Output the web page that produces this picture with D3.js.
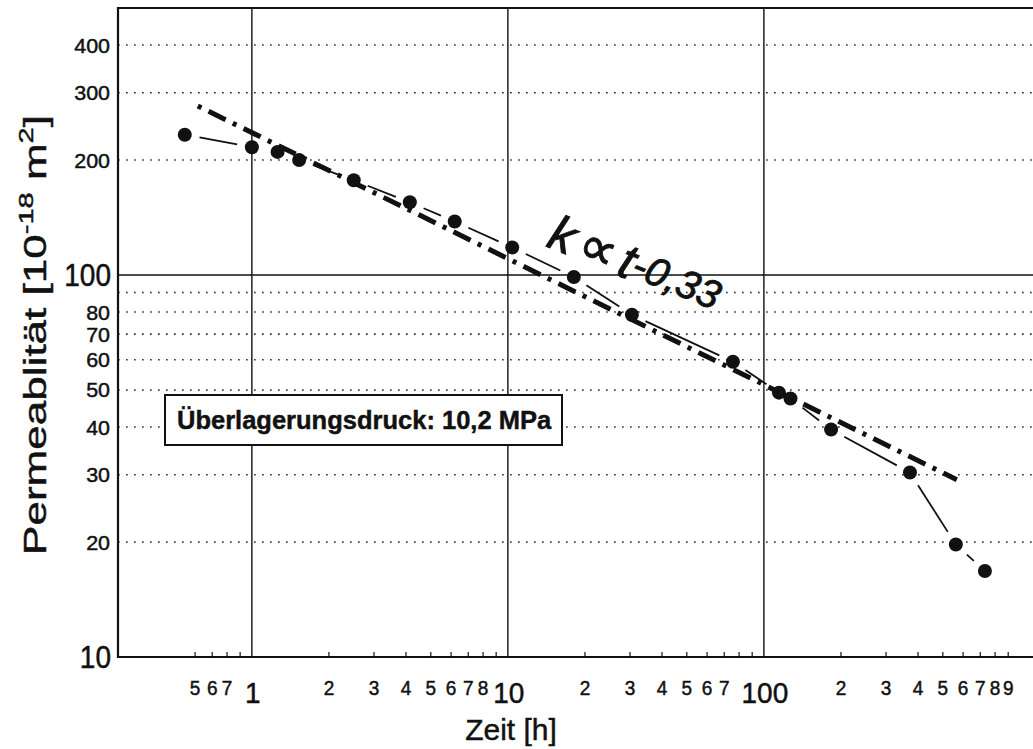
<!DOCTYPE html>
<html>
<head>
<meta charset="utf-8">
<script src="https://cdn.jsdelivr.net/npm/d3@7"></script>
<style>
  html, body { margin: 0; padding: 0; background: #fff; }
  svg { display: block; }
  text { font-family: "Liberation Sans", Arial, Helvetica, sans-serif; fill: #111; stroke: #111; stroke-width: 0.45px; }
</style>
</head>
<body>
<svg id="chart" width="1033" height="749"></svg>
<script>
// Measured permeability over time
const timeHours = [0.547, 1.0, 1.26, 1.53, 2.5, 4.14, 6.2, 10.4, 18.1, 30.5, 75.7, 114.5, 127, 183, 372, 562, 730];
const permeability = [233, 216, 210, 200, 177, 155, 138, 118, 98.8, 78.7, 59.3, 49.2, 47.5, 39.4, 30.4, 19.7, 16.8];

// Power-law fit k = A * t^(-0.33)
const fitExponent = 0.33;
const fitFactor = 236;
const fitRange = [0.615, 567];

// Axis ticks and labels
const xMajor = [1, 10, 100];
const xMajorLabels = ["1", "10", "100"];
const xMinor = [0.6, 0.7, 0.8, 0.9, 2, 3, 4, 5, 6, 7, 8, 9, 20, 30, 40, 50, 60, 70, 80, 90, 200, 300, 400, 500, 600, 700, 800, 900];
const xMinorLabelAt = [0.6, 0.7, 0.8, 2, 3, 4, 5, 6, 7, 8, 20, 30, 40, 50, 60, 70, 200, 300, 400, 500, 600, 700, 800, 900];
const xMinorLabels = ["5", "6", "7", "2", "3", "4", "5", "6", "7", "8", "2", "3", "4", "5", "6", "7", "2", "3", "4", "5", "6", "7", "8", "9"];
const yMajor = [10, 100];
const yMajorLabels = ["10", "100"];
const yDotted = [20, 30, 40, 50, 60, 70, 80, 90, 200, 300, 400];
const yMinorLabelAt = [20, 30, 40, 50, 60, 70, 80, 200, 300, 400];
const yMinorLabels = ["20", "30", "40", "50", "60", "70", "80", "200", "300", "400"];

const xTitle = "Zeit [h]";
const legendText = "Überlagerungsdruck: 10,2 MPa";

const plot = { left: 118, right: 1033, top: 8, bottom: 657 };

const svg = d3.select("#chart");

const x = d3.scaleLog().domain([0.3, 1125]).range([plot.left, plot.right]);
const y = d3.scaleLog().domain([10, 500]).range([plot.bottom, plot.top]);

// dotted horizontal grid
svg.append("g").selectAll("line").data(yDotted).join("line")
  .attr("x1", plot.left).attr("x2", plot.right)
  .attr("y1", d => y(d)).attr("y2", d => y(d))
  .attr("stroke", "#333").attr("stroke-width", 1.7)
  .attr("stroke-dasharray", "1.7,6.3");

// solid grid lines at decades
svg.append("g").selectAll("line").data(xMajor).join("line")
  .attr("x1", d => x(d)).attr("x2", d => x(d))
  .attr("y1", plot.top).attr("y2", plot.bottom)
  .attr("stroke", "#111").attr("stroke-width", 1.4);
svg.append("line")
  .attr("x1", plot.left).attr("x2", plot.right)
  .attr("y1", y(100)).attr("y2", y(100))
  .attr("stroke", "#111").attr("stroke-width", 1.4);

// frame: top, left, bottom
svg.append("path")
  .attr("d", `M${plot.right},${plot.top}H${plot.left}V${plot.bottom}H${plot.right}`)
  .attr("fill", "none").attr("stroke", "#111").attr("stroke-width", 2.2);

// minor x ticks pointing into the plot
svg.append("g").selectAll("line").data(xMinor).join("line")
  .attr("x1", d => x(d)).attr("x2", d => x(d))
  .attr("y1", plot.bottom).attr("y2", plot.bottom - 5)
  .attr("stroke", "#111").attr("stroke-width", 1.2);

// x labels
svg.append("g").selectAll("text").data(xMinorLabelAt).join("text")
  .attr("transform", d => `translate(${x(d)},695) scale(1,1.08)`)
  .attr("text-anchor", "middle").attr("font-size", 19)
  .text((d, i) => xMinorLabels[i]);
svg.append("g").selectAll("text").data(xMajor).join("text")
  .attr("transform", d => `translate(${x(d) + 1},703) scale(1,1.08)`)
  .attr("text-anchor", "middle").attr("font-size", 28)
  .text((d, i) => xMajorLabels[i]);

// y labels
svg.append("g").selectAll("text").data(yMinorLabelAt).join("text")
  .attr("transform", d => `translate(110,${y(d) + 7.5}) scale(1.1,1)`)
  .attr("text-anchor", "end").attr("font-size", 19.5)
  .text((d, i) => yMinorLabels[i]);
svg.append("g").selectAll("text").data(yMajor).join("text")
  .attr("transform", d => `translate(111,${y(d) + 11}) scale(1,1.1)`)
  .attr("text-anchor", "end").attr("font-size", 28)
  .text((d, i) => yMajorLabels[i]);

// axis titles
svg.append("text")
  .attr("x", 511).attr("y", 740)
  .attr("text-anchor", "middle").attr("font-size", 30)
  .text(xTitle);

const yt = svg.append("text")
  .attr("text-anchor", "middle").attr("font-size", 32);
yt.append("tspan").text("Permeablität [10");
yt.append("tspan").attr("font-size", 21).attr("dy", -13).text("-18");
yt.append("tspan").attr("dy", 13).text(" m");
yt.append("tspan").attr("font-size", 21).attr("dy", -13).text("2");
yt.append("tspan").attr("dy", 13).text("]");
{
  const len = yt.node().getComputedTextLength();
  const sx = 440 / len;
  yt.attr("transform", `translate(46,335) rotate(-90) scale(${sx},1)`);
}

// connecting segments between measurements, kept clear of the markers
const pts = timeHours.map((t, i) => [x(t), y(permeability[i])]);
const gap = 15;
const segs = [];
for (let i = 0; i < pts.length - 1; i++) {
  const [x1, y1] = pts[i], [x2, y2] = pts[i + 1];
  const L = Math.hypot(x2 - x1, y2 - y1);
  if (L > 2 * gap + 3) {
    const ux = (x2 - x1) / L, uy = (y2 - y1) / L;
    segs.push([x1 + ux * gap, y1 + uy * gap, x2 - ux * gap, y2 - uy * gap]);
  }
}
svg.append("g").selectAll("line").data(segs).join("line")
  .attr("x1", d => d[0]).attr("y1", d => d[1])
  .attr("x2", d => d[2]).attr("y2", d => d[3])
  .attr("stroke", "#111").attr("stroke-width", 1.8);

// power-law fit line
const fitLine = d3.line().x(d => x(d)).y(d => y(fitFactor * Math.pow(d, -fitExponent)));
svg.append("path")
  .attr("d", fitLine(fitRange))
  .attr("fill", "none").attr("stroke", "#111")
  .attr("stroke-width", 5)
  .attr("stroke-dasharray", "4,8,19,8");

// markers
svg.append("g").selectAll("circle").data(timeHours).join("circle")
  .attr("cx", d => x(d)).attr("cy", (d, i) => y(permeability[i]))
  .attr("r", 7).attr("fill", "#111");

// fit annotation
const ann = svg.append("text")
  .attr("transform", "translate(545,246) rotate(22)")
  .attr("font-style", "italic").attr("font-size", 50)
  .style("stroke-width", "0.9px");
ann.append("tspan").text("k");
ann.append("tspan").attr("dx", 6).attr("font-style", "normal").attr("font-size", 54)
  .attr("font-family", "DejaVu Sans").text("∝");
ann.append("tspan").attr("dx", 6).text("t");
ann.append("tspan").attr("font-size", 40).attr("dy", -4).text("-0,33");

// legend box
svg.append("rect")
  .attr("x", 165).attr("y", 395).attr("width", 397).attr("height", 50)
  .attr("fill", "#fff").attr("stroke", "#111").attr("stroke-width", 2);
svg.append("text")
  .attr("x", 177).attr("y", 429)
  .attr("font-weight", "bold").attr("font-size", 25.5)
  .text(legendText);
</script>
</body>
</html>
